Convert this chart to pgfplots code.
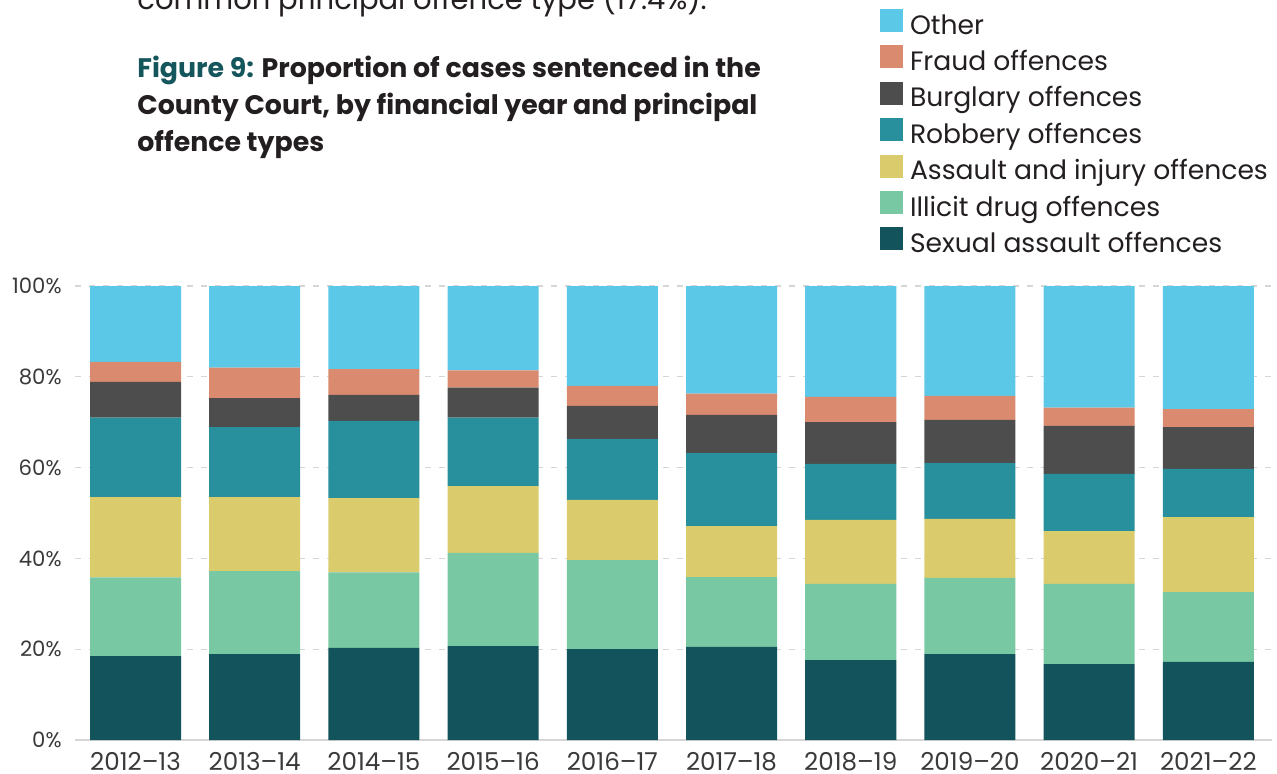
\documentclass[border=0pt]{standalone}
\usepackage{fontspec}
\setmainfont{Poppins}
\usepackage{pgfplots}
\pgfplotsset{compat=1.18}
\usepackage{pgfplotstable}
\definecolor{cOther}{HTML}{5BC8E8}
\definecolor{cFraud}{HTML}{DA8A6E}
\definecolor{cBurg}{HTML}{4C4D4C}
\definecolor{cRob}{HTML}{288F9C}
\definecolor{cAss}{HTML}{DACB6C}
\definecolor{cDrug}{HTML}{79C8A4}
\definecolor{cSex}{HTML}{13535C}
\definecolor{cTitle}{HTML}{15555C}
\definecolor{cText}{HTML}{231F20}
\definecolor{cTick}{HTML}{3A3A3A}
\definecolor{cGrid}{HTML}{D6D6D6}
\pgfplotstableread{
x sex drug assault robbery burglary fraud other
0 18.5 17.3 17.7 17.5 7.9 4.4 16.7
1 18.9 18.3 16.3 15.4 6.4 6.7 18.0
2 20.3 16.6 16.4 17.0 5.7 5.7 18.3
3 20.7 20.5 14.7 15.1 6.6 3.8 18.6
4 20.0 19.6 13.3 13.4 7.3 4.4 22.0
5 20.5 15.4 11.2 16.1 8.4 4.7 23.7
6 17.6 16.8 14.1 12.3 9.2 5.6 24.4
7 18.9 16.8 13.0 12.3 9.5 5.3 24.2
8 16.7 17.7 11.6 12.6 10.6 4.0 26.8
9 17.2 15.4 16.5 10.6 9.2 4.0 27.1
}\datatable
\pgfplotsset{sq/.style={legend image code/.code={\fill[##1,draw=none] (0pt,-2.25pt) rectangle (11.5pt,9.25pt);}}}
\begin{document}
\begin{tikzpicture}
\path[use as bounding box] (0,0) rectangle (638.5pt,386.5pt);
\begin{scope}
\clip (0,0) rectangle (638.5pt,386.5pt);
\node[anchor=base west, inner sep=0pt, font=\fontsize{14.5}{18}\selectfont, text=cText] at (68.5pt,381.5pt) {common principal offence type (17.4\%).};
\end{scope}
\node[anchor=base west, inner sep=0pt, font=\bfseries\fontsize{13.4}{17}\selectfont, text=cText] at (68.5pt,348pt) {\textcolor{cTitle}{Figure 9:} Proportion of cases sentenced in the};
\node[anchor=base west, inner sep=0pt, font=\bfseries\fontsize{13.4}{17}\selectfont, text=cText] at (68.5pt,329.5pt) {County Court, by financial year and principal};
\node[anchor=base west, inner sep=0pt, font=\bfseries\fontsize{13.4}{17}\selectfont, text=cText] at (68.5pt,311pt) {offence types};
\begin{axis}[
  at={(37.5pt,16.5pt)}, anchor=south west,
  scale only axis, width=598.5pt, height=227pt,
  ybar stacked, bar width=45.5pt,
  xmin=-0.5076, xmax=9.534, ymin=0, ymax=100,
  xtick={0,...,9},
  xticklabels={2012–13,2013–14,2014–15,2015–16,2016–17,2017–18,2018–19,2019–20,2020–21,2021–22},
  ytick={0,20,40,60,80,100},
  yticklabels={0\%,20\%,40\%,60\%,80\%,100\%},
  major tick length=0pt,
  axis x line*=bottom, axis y line*=left,
  x axis line style={draw=cGrid, line width=0.8pt},
  y axis line style={draw=none},
  ymajorgrids, grid style={draw=cGrid, line width=0.6pt, dash pattern=on 3pt off 4pt},
  tick label style={text=cTick},
  yticklabel style={font=\fontsize{10.6}{13}\selectfont, anchor=east, inner sep=0pt, xshift=-6.5pt},
  xticklabel style={font=\fontsize{12.3}{14}\selectfont, anchor=north, inner sep=0pt, yshift=-6pt},
  reverse legend,
  legend cell align=left,
  legend style={at={(axis description cs:0.6725,1.6106)}, anchor=north west,
    draw=none, fill=none, inner sep=0pt, outer sep=0pt,
    font=\fontsize{13.3}{16}\selectfont, text=cText,
    nodes={inner sep=0pt, text height=10.75pt, text depth=4pt},
    row sep=1.6pt,
    /tikz/every odd column/.append style={column sep=3.5pt}},
]
\addplot[fill=cSex, draw=none, sq] table[x=x, y=sex] {\datatable};
\addplot[fill=cDrug, draw=none, sq] table[x=x, y=drug] {\datatable};
\addplot[fill=cAss, draw=none, sq] table[x=x, y=assault] {\datatable};
\addplot[fill=cRob, draw=none, sq] table[x=x, y=robbery] {\datatable};
\addplot[fill=cBurg, draw=none, sq] table[x=x, y=burglary] {\datatable};
\addplot[fill=cFraud, draw=none, sq] table[x=x, y=fraud] {\datatable};
\addplot[fill=cOther, draw=none, sq] table[x=x, y=other] {\datatable};
\legend{Sexual assault offences,Illicit drug offences,Assault and injury offences,Robbery offences,Burglary offences,Fraud offences,Other}
\end{axis}
\end{tikzpicture}
\end{document}
